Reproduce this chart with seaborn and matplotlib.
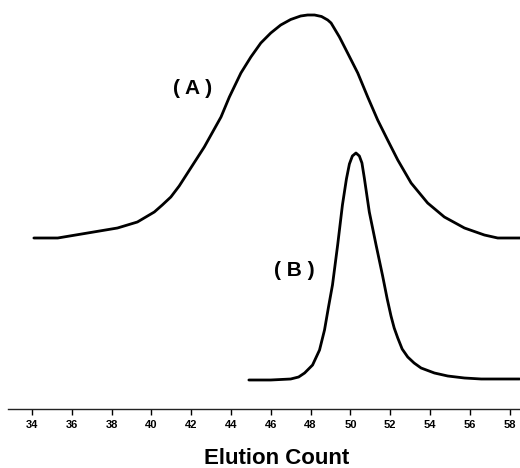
import matplotlib
matplotlib.use("Agg")
import matplotlib.pyplot as plt
import seaborn as sns
import numpy as np
import pandas as pd

# Peak A (broad) - elution count vs detector response (arbitrary units)
count_a = [34.1, 35.3, 36.8, 38.3, 39.3, 40.15, 40.55, 40.98, 41.4, 41.82, 42.24, 42.66,
           43.08, 43.5, 43.92, 44.5, 45.0, 45.5, 46.0, 46.5, 47.0, 47.5, 47.85, 48.2,
           48.55, 48.86, 49.03, 49.45, 49.86, 50.37, 50.87, 51.37, 51.87, 52.38, 53.05,
           53.88, 54.72, 55.73, 56.73, 57.4, 58.57]
resp_a = [171, 171, 176, 181, 187, 197, 204, 212, 223, 236, 249, 262,
          277, 292, 312, 336, 352, 366, 376, 384, 389.5, 393, 394, 394,
          392.5, 389, 386, 372, 356, 336, 312, 289, 269, 249, 226,
          206, 192, 181, 174, 171, 171]

# Peak B (narrow)
count_b = [44.9, 46.0, 47.0, 47.4, 47.7, 48.1, 48.45, 48.7, 48.9, 49.1, 49.36, 49.6,
           49.8, 49.95, 50.1, 50.28, 50.45, 50.58, 50.7, 50.95, 51.29, 51.62, 51.85,
           52.04, 52.2, 52.38, 52.6, 52.88, 53.2, 53.55, 54.22, 54.89, 55.73, 56.57, 58.5]
resp_b = [29, 29, 30, 32, 36, 44, 59, 79, 102, 124, 164, 204,
          230, 245, 253, 256, 253, 246, 231, 197, 164, 133, 110,
          93, 81, 71, 60, 52, 46, 41, 36, 33, 31, 30, 30]

ticks = [34, 36, 38, 40, 42, 44, 46, 48, 50, 52, 54, 56, 58]

df = pd.concat([
    pd.DataFrame({"count": count_a, "resp": resp_a, "peak": "A"}),
    pd.DataFrame({"count": count_b, "resp": resp_b, "peak": "B"}),
])

sns.set_style("white")
plt.rcParams["font.family"] = ["Liberation Sans", "DejaVu Sans"]
plt.rcParams["text.color"] = "black"
plt.rcParams["xtick.color"] = "black"
plt.rcParams["axes.labelcolor"] = "black"

fig = plt.figure(figsize=(5.2, 4.68), dpi=100)
ax = fig.add_axes([8 / 520, 59 / 468, 512 / 520, 409 / 468])

sns.lineplot(data=df, x="count", y="resp", hue="peak", palette=["black", "black"],
             linewidth=2.0, legend=False, ax=ax, sort=False)

ax.set_xlim(32.8, 58.52)
ax.set_ylim(0, 409)

ax.text(42.05, 321, "( A )", fontsize=15, fontweight="bold", ha="center", va="center")
ax.text(47.2, 138, "( B )", fontsize=15, fontweight="bold", ha="center", va="center")

for s in ["left", "top", "right"]:
    ax.spines[s].set_visible(False)
ax.spines["bottom"].set_linewidth(1.0)
ax.spines["bottom"].set_color("#222222")

ax.set_yticks([])
ax.set_xticks(ticks)
ax.set_xticklabels([str(t) for t in ticks], fontsize=8, fontweight="bold")
ax.tick_params(axis="x", direction="out", length=4, width=1.0, pad=4, bottom=True)

ax.set_xlabel("Elution Count", fontsize=16, fontweight="bold")
ax.xaxis.set_label_coords((277 - 8) / 512, -39 / 409)
ax.set_ylabel("")

fig.savefig("out.png", dpi=100)
